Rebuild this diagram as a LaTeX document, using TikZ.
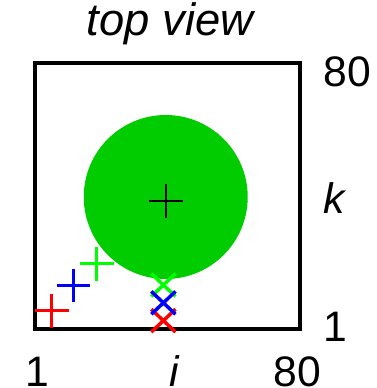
\documentclass[tikz,border=0pt]{standalone}
\usepackage{fontspec}
\setmainfont{Liberation Sans}
\definecolor{disc}{RGB}{0,204,0}
\definecolor{markred}{RGB}{255,0,0}
\definecolor{markblue}{RGB}{0,0,255}
\definecolor{markgreen}{RGB}{0,255,0}
\tikzset{
  frame/.style={line width=3pt},
  lbl/.style={font=\fontsize{32}{36}\selectfont,inner sep=0pt},
  headline/.style={font=\fontsize{34}{38}\selectfont\itshape,inner sep=0pt},
  % markers
  pics/plus/.style={code={
    \draw[draw=#1,line width=2.2pt] (-5,0) -- (5,0) (0,-5) -- (0,5);
  }},
  pics/plus/.default=black,
  pics/cross/.style={code={
    \draw[draw=#1,line width=2.6pt] (-3.6,-3.4) -- (3.6,3.4) (-3.6,3.4) -- (3.6,-3.4);
  }},
  pics/cross/.default=black,
}
\begin{document}
\begin{tikzpicture}[x=2.52pt,y=2.52pt]
  \useasboundingbox (-9.33,-16.65) rectangle (102.58,98.83);
  \fill[disc] (40,40.2) circle (24.4);
  \draw[line width=1.5pt] (35,39) -- (45,39) (40,34) -- (40,44);
  \draw[frame] (1,1) rectangle (80,80);
  \foreach \c/\i/\k in {markred/6.1/6.3,markblue/12.5/13.8,markgreen/19.5/20.3}
    \pic at (\i,\k) {plus=\c};
  \foreach \c/\k in {markred/3.4,markgreen/14,markblue/8.7}
    \pic at (39.3,\k) {cross=\c};
  \node[headline,anchor=base] (title) at (41.3,88.2) {top view};
  \node[lbl,anchor=base west] (ktop) at (87,73) {80};
  \node[lbl,anchor=base west,font=\fontsize{32}{36}\selectfont\itshape] (kname) at (87,35.3) {k};
  \node[lbl,anchor=base west] (kbot) at (87,-2.9) {1};
  \node[lbl,anchor=base] (ibot) at (1.8,-16.35) {1};
  \node[lbl,anchor=base,font=\fontsize{32}{36}\selectfont\itshape] (iname) at (42.5,-16.35) {i};
  \node[lbl,anchor=base] (itop) at (79.2,-16.35) {80};
\end{tikzpicture}
\end{document}
